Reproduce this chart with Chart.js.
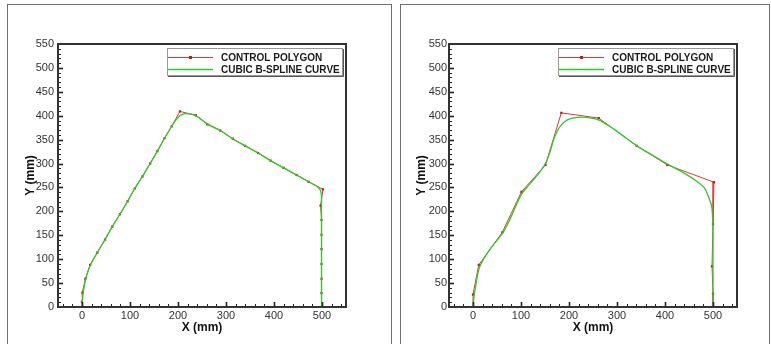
<!DOCTYPE html>
<html>
<head>
<meta charset="utf-8">
<script src="https://cdn.jsdelivr.net/npm/chart.js@4.4.1/dist/chart.umd.min.js"></script>
<style>
html, body { margin: 0; padding: 0; background: #fff; width: 771px; height: 344px; overflow: hidden; position: relative; }
.panel { position: absolute; top: 4px; height: 360px; border: 1px solid #6f6f6f; box-sizing: border-box; }
#p1 { left: 7px; width: 385px; }
#p2 { left: 400px; width: 370px; }
canvas { position: absolute; }
</style>
</head>
<body>
<div class="panel" id="p1"></div>
<div class="panel" id="p2"></div>
<canvas id="c1" width="382" height="339" style="left:8px;top:5px"></canvas>
<canvas id="c2" width="368" height="339" style="left:401px;top:5px"></canvas>
<script>
// Etichette e assi
const seriesNames = ['CONTROL POLYGON', 'CUBIC B-SPLINE CURVE'];
const xTicks = [0, 100, 200, 300, 400, 500];
const yTicks = [0, 50, 100, 150, 200, 250, 300, 350, 400, 450, 500, 550];

// Pannello sinistro: poligono di controllo
const leftPolyX = [0, 0, 1, 7, 17, 32, 48, 63, 79, 95, 110, 126, 142, 157, 172, 187, 204, 237, 261, 288, 314, 340, 367, 393, 420, 447, 472, 502, 497, 499, 499, 499, 499, 499, 499, 499];
const leftPolyY = [0, 11, 30, 59, 88, 114, 141, 168, 194, 221, 248, 273, 300, 326, 353, 378, 409, 401, 382, 369, 352, 337, 322, 306, 291, 276, 262, 246, 212, 182, 151, 121, 90, 59, 29, 0];
// Pannello sinistro: curva B-spline
const leftCurveX = [0, 1, 3, 8, 17, 32, 48, 63, 79, 95, 110, 126, 142, 157, 172, 187, 197, 204, 212, 222, 237, 261, 288, 314, 340, 367, 393, 420, 447, 472, 485, 493, 497, 499, 499, 499, 499, 499];
const leftCurveY = [0, 15, 33, 59, 87, 114, 141, 168, 194, 221, 248, 273, 300, 326, 353, 378, 393, 400, 404, 404, 400, 383, 369, 352, 337, 322, 306, 291, 276, 262, 255, 249, 243, 232, 212, 120, 60, 0];

// Pannello destro: poligono di controllo
const rightPolyX = [0, 0, 12, 61, 101, 151, 184, 262, 341, 405, 502, 500, 498, 500, 500];
const rightPolyY = [0, 26, 88, 156, 241, 297, 406, 395, 337, 297, 261, 173, 85, 28, 0];
// Pannello destro: curva B-spline
const rightCurveX = [0, 2, 5, 14, 35, 62, 80, 100, 118, 135, 151, 160, 168, 176, 184, 193, 203, 214, 232, 260, 295, 341, 370, 405, 440, 466, 482, 490, 497, 499, 500, 500, 500, 500];
const rightCurveY = [0, 20, 40, 84, 120, 155, 190, 234, 257, 277, 300, 323, 350, 369, 381, 389, 394, 396, 397, 392, 371, 337, 320, 299, 280, 263, 249, 232, 212, 190, 160, 110, 60, 0];

const FONT = "'Liberation Sans', Arial, sans-serif";
const RED = 'rgb(232,52,52)';
const RED_MARK = 'rgb(200,24,24)';
const GREEN = 'rgb(40,205,40)';

function toPoints(xs, ys) {
    return xs.map((x, i) => ({ x: x, y: ys[i] }));
}

// Cornice, tacche interne e legenda
const framePlugin = {
    id: 'frame',
    afterDatasetsDraw(chart) {
        const ctx = chart.ctx;
        const a = chart.chartArea;
        const xs = chart.scales.x;
        const ys = chart.scales.y;
        ctx.save();
        ctx.strokeStyle = '#222';
        // tacche asse x
        for (let v = -40; v <= 540; v += 20) {
            const px = Math.round(xs.getPixelForValue(v)) + 0.5;
            const major = v % 100 === 0;
            ctx.lineWidth = major ? 1.6 : 1;
            ctx.beginPath();
            ctx.moveTo(px, a.bottom);
            ctx.lineTo(px, a.bottom - (major ? 5 : 3));
            ctx.stroke();
        }
        // tacche asse y
        for (let v = 10; v < 550; v += 10) {
            const py = Math.round(ys.getPixelForValue(v)) + 0.5;
            const major = v % 50 === 0;
            ctx.lineWidth = major ? 1.6 : 1;
            ctx.beginPath();
            ctx.moveTo(a.left, py);
            ctx.lineTo(a.left + (major ? 5 : 3), py);
            ctx.stroke();
        }
        // cornice
        ctx.lineWidth = 2;
        ctx.strokeStyle = '#333';
        ctx.strokeRect(a.left, a.top, a.right - a.left, a.bottom - a.top);

        // legenda
        const bx = a.right - 179, by = a.top + 4, bw = 175, bh = 27;
        ctx.fillStyle = '#fff';
        ctx.fillRect(bx, by, bw, bh);
        ctx.lineWidth = 1;
        ctx.strokeStyle = '#555';
        ctx.beginPath();
        ctx.moveTo(bx + bw + 1.5, by + 1);
        ctx.lineTo(bx + bw + 1.5, by + bh + 1.5);
        ctx.lineTo(bx + 1, by + bh + 1.5);
        ctx.stroke();
        ctx.strokeStyle = '#999';
        ctx.strokeRect(bx + 0.5, by + 0.5, bw, bh);

        const rows = [by + 9.5, by + 21.5];
        ctx.font = 'bold 10px ' + FONT;
        ctx.textBaseline = 'middle';
        ctx.textAlign = 'left';
        chart.data.datasets.forEach((ds, i) => {
            const yy = rows[i];
            ctx.strokeStyle = ds.borderColor;
            ctx.lineWidth = ds.borderWidth;
            ctx.beginPath();
            ctx.moveTo(bx + 1, yy);
            ctx.lineTo(bx + 46, yy);
            ctx.stroke();
            if (ds.pointRadius > 0) {
                ctx.fillStyle = RED_MARK;
                ctx.fillRect(bx + 22, yy - 1.5, 3, 3);
            }
            ctx.fillStyle = '#1a1a1a';
            ctx.fillText(ds.label, bx + 54, yy + 0.5);
        });
        ctx.restore();
    }
};

function makeChart(canvasId, polyX, polyY, curveX, curveY, plotLeft, plotRight, labelPad, yTitlePad) {
    const canvas = document.getElementById(canvasId);
    const W = canvas.width, H = canvas.height;
    const plotTop = 39, plotBottom = 302;
    return new Chart(canvas.getContext('2d'), {
        type: 'scatter',
        data: {
            datasets: [{
                label: seriesNames[0],
                data: toPoints(polyX, polyY),
                showLine: true,
                borderColor: RED,
                borderWidth: 1,
                tension: 0,
                pointStyle: 'rect',
                pointRadius: 1.6,
                pointBackgroundColor: RED_MARK,
                pointBorderWidth: 0,
                order: 1
            }, {
                label: seriesNames[1],
                data: toPoints(curveX, curveY),
                showLine: true,
                borderColor: GREEN,
                borderWidth: 1.3,
                tension: 0.35,
                pointRadius: 0,
                order: 0
            }]
        },
        options: {
            responsive: false,
            animation: false,
            layout: { padding: { left: 0, top: plotTop, right: W - plotRight, bottom: 0 } },
            plugins: { legend: { display: false }, tooltip: { enabled: false } },
            scales: {
                x: {
                    type: 'linear',
                    min: -50,
                    max: 550,
                    afterBuildTicks: (s) => { s.ticks = xTicks.map(v => ({ value: v })); },
                    afterFit: (s) => { s.height = H - plotBottom; },
                    grid: { display: false, drawTicks: false },
                    border: { display: false },
                    ticks: { autoSkip: false, maxRotation: 0, padding: 2, color: '#333', font: { family: FONT, size: 11 } },
                    title: { display: true, text: 'X (mm)', color: '#111', font: { family: FONT, size: 12, weight: 'bold' }, padding: { top: 0, bottom: 9 } }
                },
                y: {
                    type: 'linear',
                    min: 0,
                    max: 550,
                    afterBuildTicks: (s) => { s.ticks = yTicks.map(v => ({ value: v })); },
                    afterFit: (s) => { s.width = plotLeft; },
                    grid: { display: false, drawTicks: false },
                    border: { display: false },
                    ticks: { autoSkip: false, padding: labelPad, color: '#333', font: { family: FONT, size: 11 } },
                    title: { display: true, text: 'Y (mm)', color: '#111', font: { family: FONT, size: 12, weight: 'bold' }, padding: { top: yTitlePad, bottom: 0 } }
                }
            }
        },
        plugins: [framePlugin]
    });
}

makeChart('c1', leftPolyX, leftPolyY, leftCurveX, leftCurveY, 50, 338, 4, 15);
makeChart('c2', rightPolyX, rightPolyY, rightCurveX, rightCurveY, 48, 336, 2, 13.5);
</script>
</body>
</html>
